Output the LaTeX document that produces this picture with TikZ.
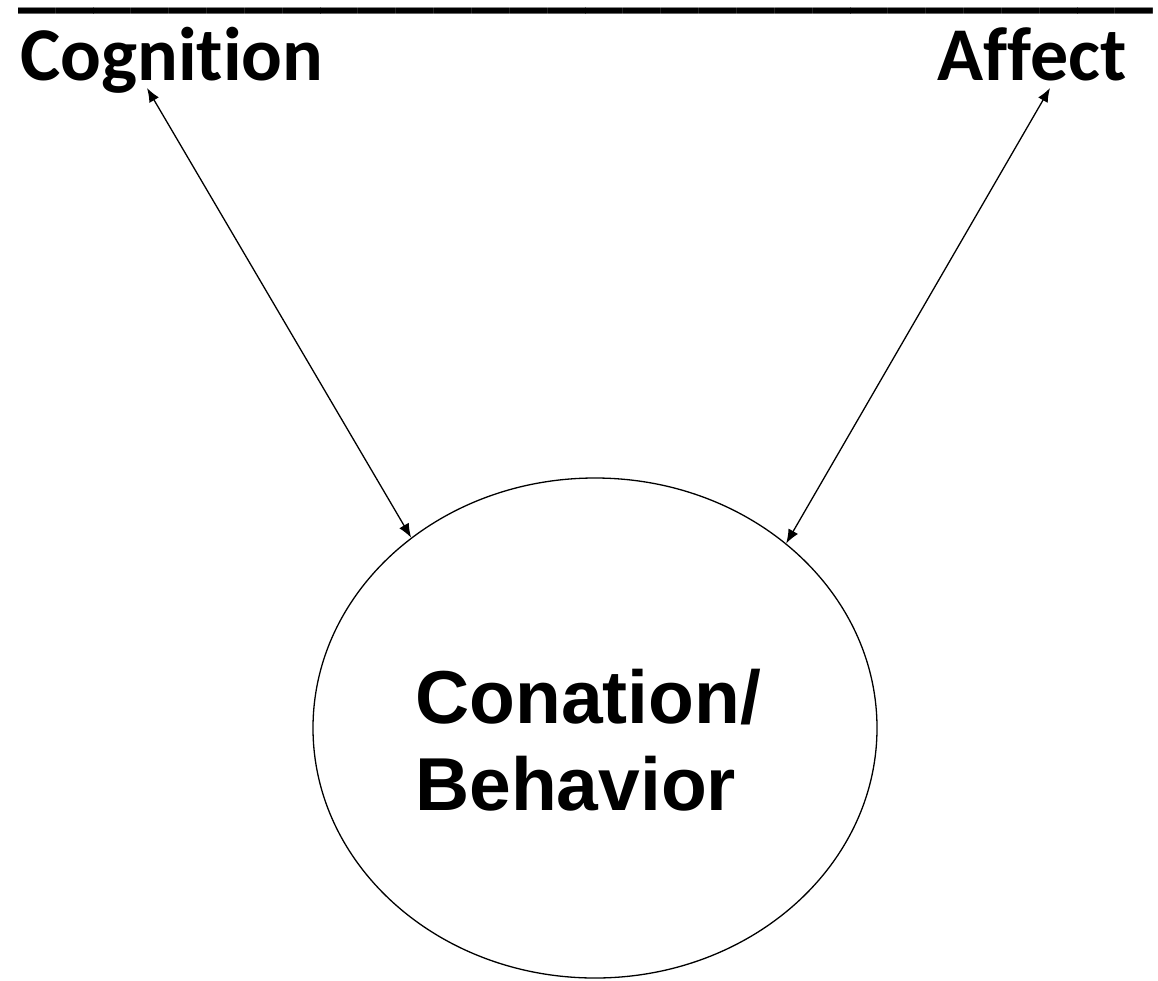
\documentclass[tikz,border=0pt]{standalone}
\usepackage{fontspec}
\setmainfont[Ligatures={NoCommon,NoRare}]{Carlito}
\newfontfamily\arialfont{Liberation Sans}
\usetikzlibrary{arrows.meta,shapes.geometric}
\begin{document}
\begin{tikzpicture}[x=1pt,y=-1pt,
		head/.style={font=\fontsize{76}{80}\selectfont\bfseries, inner sep=0pt},
		link/.style={{Latex[length=14pt,width=11pt]}-{Latex[length=14pt,width=11pt]}, line width=1.3pt}]
		\useasboundingbox (0,0) rectangle (1158,980);

		\node[head, anchor=base west] (bar) at (18,3) {\_\_\_\_\_\_\_\_\_\_\_\_\_\_\_\_\_\_\_\_\_\_\_\_\_\_\_\_\_\_};
		\node[head, anchor=base west] (cog) at (20,80) {Cognition};
		\node[head, anchor=base east] (aff) at (1127,80) {Affect};

		\node[draw, ellipse, line width=1.3pt, minimum width=564, minimum height=500, inner sep=0pt] (con) at (595,728) {};
		\node[align=left, inner sep=0pt, anchor=base west, font=\arialfont\fontsize{75}{87}\selectfont\bfseries]
			(context) at (415,810) {Conation/\\Behavior};

		\coordinate (cogtip) at (147,88);
		\coordinate (afftip) at (1050,88);

		\draw[link] (cogtip) -- (con.134);
		\draw[link] (afftip) -- (con.44);
\end{tikzpicture}
\end{document}
